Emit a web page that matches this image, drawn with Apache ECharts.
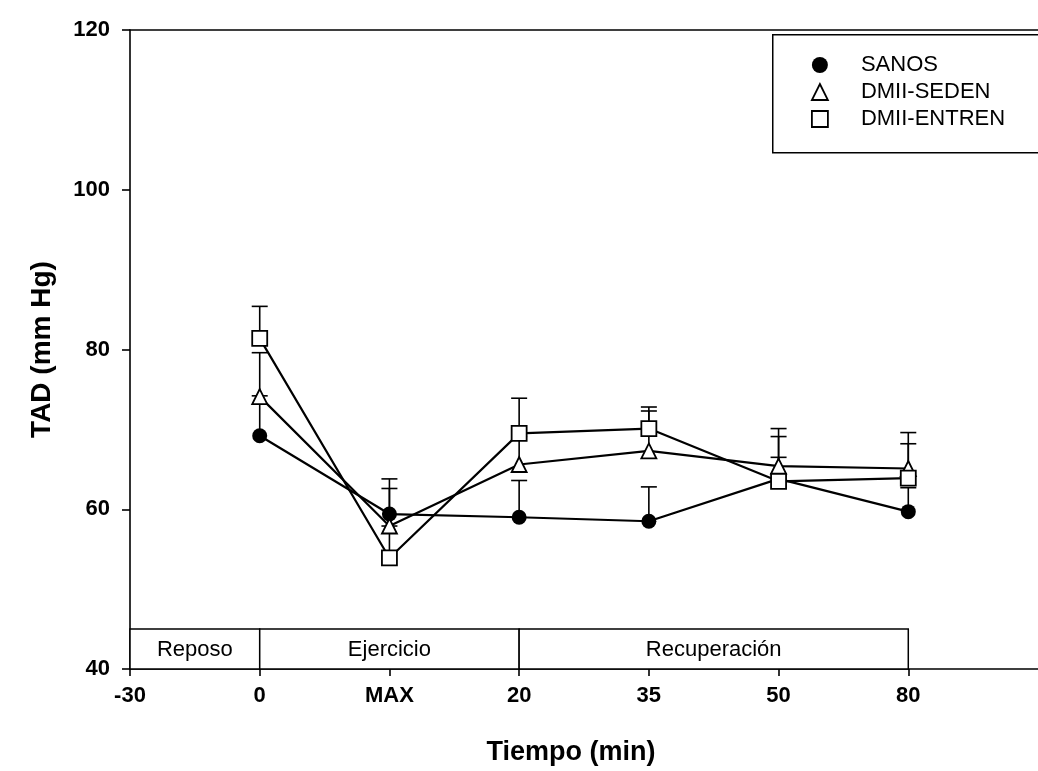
<!DOCTYPE html>
<html>
<head>
<meta charset="utf-8">
<script src="https://cdn.jsdelivr.net/npm/echarts@6/dist/echarts.min.js"></script>
<style>
  html, body { margin: 0; padding: 0; background: #fff; }
  #chart { width: 1038px; height: 771px; }
</style>
</head>
<body>
<div id="chart"></div>
<script>
// x positions: index on the axis, labels shown underneath
const xLabels = ['-30', '0', 'MAX', '20', '35', '50', '80']
const xIdx = [1, 2, 3, 4, 5, 6]

const sanos = [69.2, 59.4, 59.0, 58.5, 63.8, 59.7]
const sanosErr = [5.0, 4.4, 4.6, 4.3, 2.7, 3.0]
const seden = [74.1, 57.9, 65.6, 67.3, 65.4, 65.1]
const sedenErr = [5.5, 4.7, 3.5, 5.0, 4.7, 4.5]
const entren = [81.4, 53.9, 69.5, 70.1, 63.5, 63.9]
const entrenErr = [4.0, 4.0, 4.4, 2.7, 5.6, 4.3]

// study phases drawn as boxes along the bottom
const phaseNames = ['Reposo', 'Ejercicio', 'Recuperación']
const phaseStart = [0, 1, 3]
const phaseEnd = [1, 3, 6]
const phaseTop = 45

const FONT = "'Liberation Sans', Arial, sans-serif"
const tickPos = xLabels.map((_, i) => i)

function pairs(vals) {
  return vals.map((v, i) => [xIdx[i], v])
}

function errData(vals, errs) {
  return vals.map((v, i) => [xIdx[i], v, v + errs[i]])
}

function errRender(params, api) {
  const p0 = api.coord([api.value(0), api.value(1)])
  const p1 = api.coord([api.value(0), api.value(2)])
  const half = 8
  return {
    type: 'group',
    children: [
      { type: 'line', shape: { x1: p0[0], y1: p0[1], x2: p1[0], y2: p1[1] }, style: { stroke: '#000', lineWidth: 1.6 } },
      { type: 'line', shape: { x1: p1[0] - half, y1: p1[1], x2: p1[0] + half, y2: p1[1] }, style: { stroke: '#000', lineWidth: 1.6 } }
    ]
  }
}

function phaseRender(params, api) {
  const a = api.coord([api.value(0), phaseTop])
  const b = api.coord([api.value(1), 40])
  return {
    type: 'group',
    children: [
      {
        type: 'rect',
        shape: { x: a[0], y: a[1], width: b[0] - a[0], height: b[1] - a[1] },
        style: { fill: '#fff', stroke: '#000', lineWidth: 1.5 }
      },
      {
        type: 'text',
        style: {
          x: (a[0] + b[0]) / 2,
          y: (a[1] + b[1]) / 2 + 1,
          text: phaseNames[params.dataIndex],
          fill: '#000',
          font: '22px ' + FONT,
          align: 'center',
          verticalAlign: 'middle'
        }
      }
    ]
  }
}

const hollow = { color: '#fff', borderColor: '#000', borderWidth: 1.8 }

const chart = echarts.init(document.getElementById('chart'), null, { renderer: 'canvas' })

chart.setOption({
  animation: false,
  backgroundColor: '#fff',
  grid: { left: 130, right: 0, top: 30, bottom: 102, containLabel: false },
  legend: {
    orient: 'vertical',
    left: 806,
    top: 49,
    itemGap: 5,
    itemWidth: 16,
    itemHeight: 16,
    selectedMode: false,
    textStyle: { fontFamily: FONT, fontSize: 22, color: '#000', padding: [0, 0, 0, 28] },
    data: [
      { name: 'SANOS', icon: 'circle', itemStyle: { color: '#000' } },
      { name: 'DMII-SEDEN', icon: 'triangle', itemStyle: hollow },
      { name: 'DMII-ENTREN', icon: 'rect', itemStyle: hollow }
    ]
  },
  graphic: [
    {
      type: 'rect',
      left: 772,
      top: 34,
      shape: { width: 300, height: 118 },
      style: { fill: '#fff', stroke: '#000', lineWidth: 1.5 },
      z: 0
    }
  ],
  xAxis: [
    {
      type: 'value',
      min: 0,
      max: 7,
      interval: 1,
      name: 'Tiempo (min)',
      nameLocation: 'middle',
      nameGap: 70,
      nameTextStyle: { fontFamily: FONT, fontSize: 27, fontWeight: 'bold', color: '#000', padding: [0, 26, 0, 0] },
      axisLine: { lineStyle: { color: '#000', width: 1.6 } },
      axisTick: { show: true, inside: false, length: 7, customValues: tickPos, lineStyle: { color: '#000', width: 1.6 } },
      axisLabel: {
        margin: 16,
        fontFamily: FONT,
        fontSize: 22,
        fontWeight: 'bold',
        color: '#000',
        customValues: tickPos,
        formatter: (v) => xLabels[v] || ''
      },
      splitLine: { show: false }
    },
    {
      type: 'value',
      position: 'top',
      min: 0,
      max: 7,
      axisLine: { show: true, lineStyle: { color: '#000', width: 1.6 } },
      axisTick: { show: false },
      axisLabel: { show: false },
      splitLine: { show: false }
    }
  ],
  yAxis: {
    type: 'value',
    min: 40,
    max: 120,
    interval: 20,
    name: 'TAD (mm Hg)',
    nameLocation: 'middle',
    nameRotate: 90,
    nameGap: 74,
    nameTextStyle: { fontFamily: FONT, fontSize: 28, fontWeight: 'bold', color: '#000' },
    axisLine: { show: true, lineStyle: { color: '#000', width: 1.6 } },
    axisTick: { show: true, inside: false, length: 8, lineStyle: { color: '#000', width: 1.6 } },
    axisLabel: { margin: 20, fontFamily: FONT, fontSize: 22, fontWeight: 'bold', color: '#000' },
    splitLine: { show: false }
  },
  series: [
    {
      name: 'phases',
      type: 'custom',
      renderItem: phaseRender,
      data: phaseStart.map((s, i) => [s, phaseEnd[i]]),
      z: 1,
      silent: true
    },
    { name: 'errSanos', type: 'custom', renderItem: errRender, data: errData(sanos, sanosErr), z: 2, silent: true },
    { name: 'errSeden', type: 'custom', renderItem: errRender, data: errData(seden, sedenErr), z: 2, silent: true },
    { name: 'errEntren', type: 'custom', renderItem: errRender, data: errData(entren, entrenErr), z: 2, silent: true },
    {
      name: 'SANOS',
      type: 'line',
      data: pairs(sanos),
      symbol: 'circle',
      symbolSize: 15,
      lineStyle: { color: '#000', width: 2.2 },
      itemStyle: { color: '#000' },
      z: 3
    },
    {
      name: 'DMII-SEDEN',
      type: 'line',
      data: pairs(seden),
      symbol: 'triangle',
      symbolSize: 15,
      lineStyle: { color: '#000', width: 2.2 },
      itemStyle: hollow,
      z: 4
    },
    {
      name: 'DMII-ENTREN',
      type: 'line',
      data: pairs(entren),
      symbol: 'rect',
      symbolSize: 15,
      lineStyle: { color: '#000', width: 2.2 },
      itemStyle: hollow,
      z: 5
    }
  ]
})
</script>
</body>
</html>
